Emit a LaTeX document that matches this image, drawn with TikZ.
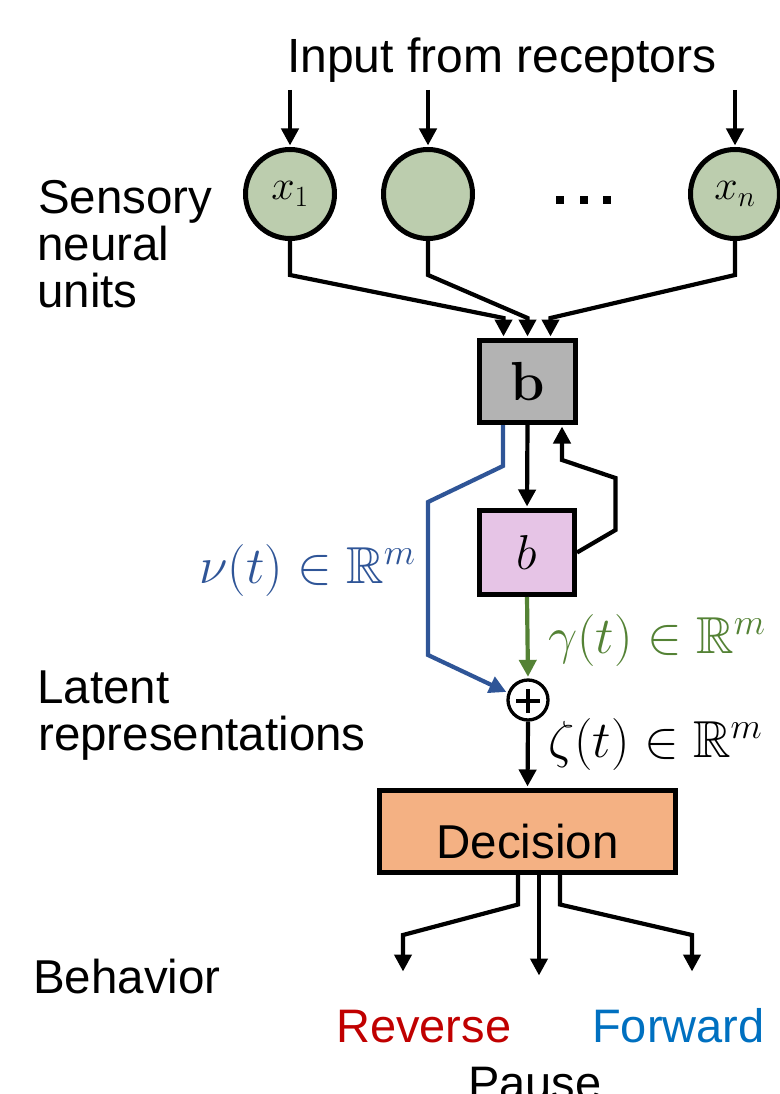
\RequirePackage{fix-cm}
\documentclass[tikz,border=0pt]{standalone}
\usepackage{amssymb}
\usepackage[no-math]{fontspec}
\newfontfamily\arialf{Liberation Sans}
\usetikzlibrary{arrows.meta,calc}
\definecolor{cgreen}{HTML}{BCCDAE}
\definecolor{cgray}{HTML}{B3B3B3}
\definecolor{cpink}{HTML}{E6C4E6}
\definecolor{corange}{HTML}{F4B183}
\definecolor{lblue}{HTML}{2F5597}
\definecolor{lgreen}{HTML}{548235}
\definecolor{tred}{HTML}{C00000}
\definecolor{tblue}{HTML}{0070C0}
\begin{document}
\begin{tikzpicture}[x=1pt,y=-1pt,
  txt/.style={font=\arialf\fontsize{47.5}{47.5}\selectfont, inner sep=0pt, anchor=base west},
  mlab/.style={font=\fontsize{52}{52}\selectfont, inner sep=0pt, anchor=base west},
  unit/.style={circle, draw, line width=5pt, fill=cgreen, minimum size=89pt, inner sep=0pt, font=\fontsize{42}{42}\selectfont},
  blk/.style={draw, line width=5pt, inner sep=0pt},
  arr/.style={line width=4.2pt, -{Triangle[width=17pt,length=17pt]}, line join=miter, shorten >=1.5pt},
]
\useasboundingbox (0,0) rectangle (779,1094);

% top text and sensory units
\node[txt, font=\arialf\fontsize{48}{48}\selectfont] (inp) at (287,73) {Input from receptors};
\node[unit] (c1) at (290,194) {$x_1$};
\node[unit] (c2) at (428,194) {};
\node[unit] (cn) at (735,194) {$x_n$};
\fill (556,196) rectangle ++(8,8);
\fill (580,196) rectangle ++(8,8);
\fill (603,196) rectangle ++(8,8);

\coordinate (i1) at (290,90);
\coordinate (i2) at (428,90);
\coordinate (in) at (735,90);
\draw[arr] (i1) -- (c1.north);
\draw[arr] (i2) -- (c2.north);
\draw[arr] (in) -- (cn.north);

% blocks
\node[blk, fill=cgray, minimum width=96pt, minimum height=82pt, font=\fontsize{55}{55}\selectfont] (bb) at (527.5,381.5) {$\mathbf{b}$};
\node[blk, fill=cpink, minimum width=95pt, minimum height=84pt, font=\fontsize{49}{49}\selectfont] (pb) at (527,552.5) {$b$};
\node[circle, draw, line width=3.3pt, minimum size=40pt, inner sep=0pt, fill=white] (pl) at (528,700) {};
\draw[line width=4pt] ($(pl.center)+(-12,1)$) -- ($(pl.center)+(12,1)$);
\draw[line width=4pt] ($(pl.center)+(0,-11)$) -- ($(pl.center)+(0,13)$);
\node[blk, fill=corange, minimum width=296pt, minimum height=82pt, font=\arialf\fontsize{47.5}{47.5}\selectfont, text height=53pt, text depth=0pt] (dec) at (527.5,831.5) {Decision};

% convergence into b
\draw[arr] (c1.south) -- ++(0,34) -- ($(bb.north)+(-24,-20)$) -- ($(bb.north)+(-24,0)$);
\draw[arr] (c2.south) -- ++(0,34) -- ($(bb.north)+(0,-20)$) -- (bb.north);
\draw[arr] (cn.south) -- ++(0,34) -- ($(bb.north)+(23,-20)$) -- ($(bb.north)+(23,0)$);

% b -> b, feedback
\draw[arr] (bb.south) -- (pb.north);
\draw[arr] (pb.east) -- ++(38.5,-22.5) -- ++(0,-52) -- ($(bb.south)+(34.5,35)$) -- ($(bb.south)+(34.5,0)$);

% blue and green into plus
\draw[arr, lblue] ($(bb.south)+(-24.5,0)$) -- ++(0,41) -- ++(-75,36) -- ++(0,153) -- (pl.160);
\draw[arr, lgreen] (pb.south) -- (pl.north);
\draw[arr] (pl.south) -- (dec.north);

% decision outputs
\coordinate (oR) at (403,973);
\coordinate (oP) at (539,977);
\coordinate (oF) at (692,973);
\draw[arr] ($(dec.south)+(-9.5,0)$) -- ++(0,29.5) -- ($(oR)+(0,-38)$) -- (oR);
\draw[arr] ($(dec.south)+(11.5,0)$) -- (oP);
\draw[arr] ($(dec.south)+(32.5,0)$) -- ++(0,29.5) -- ($(oF)+(0,-38)$) -- (oF);

% labels
\node[txt] (s1) at (38,213) {Sensory};
\node[txt] (s2) at (37,260) {neural};
\node[txt] (s3) at (37,307) {units};
\node[txt] (l1) at (37,703) {Latent};
\node[txt] (l2) at (38,750) {representations};
\node[txt] (bh) at (33,993) {Behavior};
\node[txt, font=\arialf\fontsize{47}{47}\selectfont, tred] (rv) at (336,1042) {Reverse};
\node[txt, font=\arialf\fontsize{47}{47}\selectfont, tblue] (fw) at (592,1042) {Forward};
\node[txt, font=\arialf\fontsize{47}{47}\selectfont] (ps) at (468,1099) {Pause};

\node[mlab, lblue] (nu) at (199,583) {$\nu(t)\in\mathbb{R}^m$};
\node[mlab, lgreen] (ga) at (548,653) {$\gamma(t)\in\mathbb{R}^m$};
\node[mlab] (ze) at (548,757) {$\zeta(t)\in\mathbb{R}^m$};
\end{tikzpicture}
\end{document}
